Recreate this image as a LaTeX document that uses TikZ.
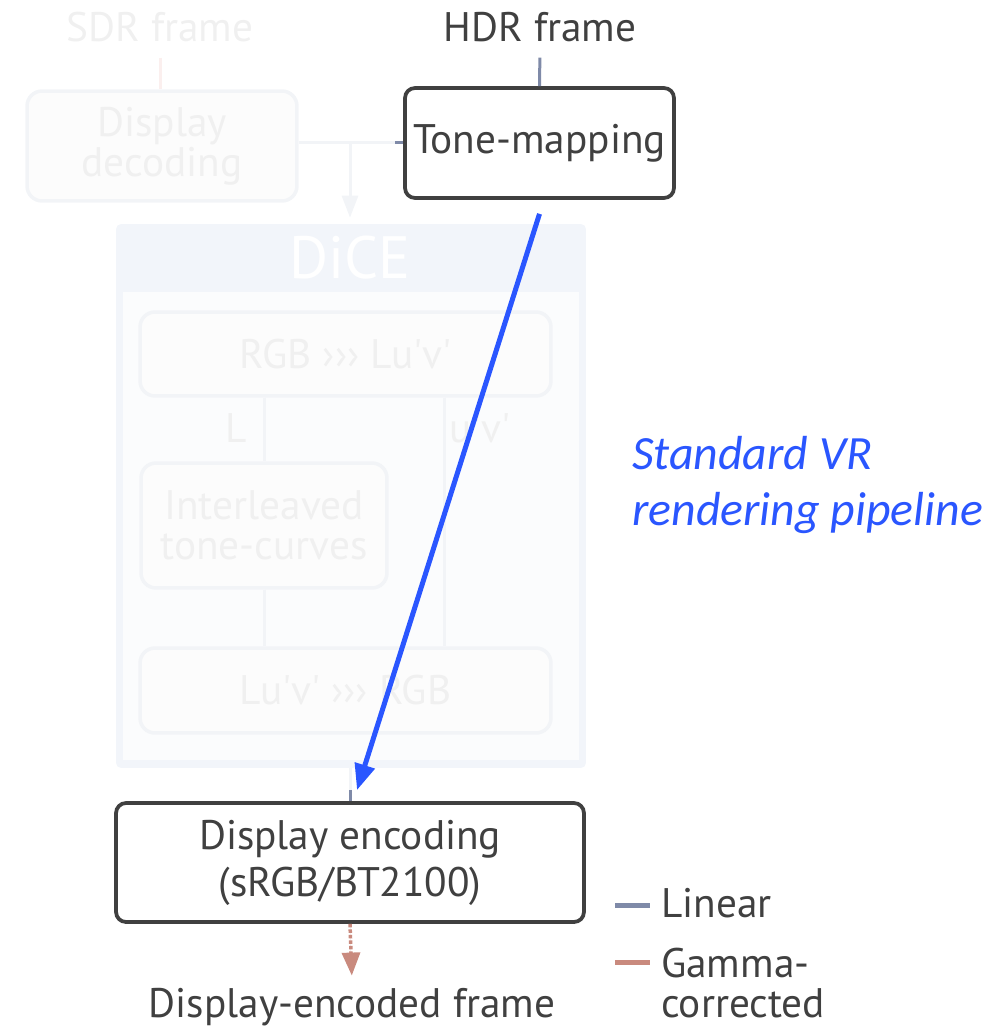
\documentclass[tikz,border=0pt]{standalone}
\usepackage{fontspec}
\setmainfont{PT Sans}
\newfontfamily\notefamily{Carlito}
\usepackage{tikz}
\usetikzlibrary{arrows.meta, positioning, calc}
\definecolor{mytext}{HTML}{404040}
\definecolor{myborder}{HTML}{404040}
\definecolor{mylinear}{HTML}{7F8AA8}
\definecolor{mygamma}{HTML}{C98A7E}
\definecolor{myblue}{HTML}{2A56FF}
\definecolor{myfainttext}{HTML}{F0F0F0}
\definecolor{myfaintline}{HTML}{F2F4F7}
\definecolor{myfaintpink}{HTML}{FBEFEE}
\definecolor{myfaintfill}{HTML}{FCFCFC}
\definecolor{mydicefill}{HTML}{F2F5FA}
\definecolor{mydiceinner}{HTML}{FBFCFD}
\newcommand\boxfont{\fontsize{23.5}{26.7}\selectfont}
\newcommand\smallboxfont{\fontsize{23.5}{22.5}\selectfont}
\newcommand\dicefont{\fontsize{34}{40}\selectfont}
\newcommand\notefont{\notefamily\itshape\fontsize{27.2}{32.4}\selectfont}
\tikzset{
stage/.style={
draw=myborder,
fill=white,
rounded corners=0.2cm,
line width=0.075cm,
text=mytext,
font=\boxfont,
align=center
},
faintstage/.style={
draw=myfaintline,
fill=myfaintfill,
rounded corners=0.3cm,
line width=0.07cm,
text=myfainttext,
font=\boxfont,
align=center
},
label/.style={
text=mytext,
font=\boxfont,
align=center
},
faintlabel/.style={
text=myfainttext,
font=\boxfont
},
linearline/.style={
draw=mylinear,
line width=0.06cm
},
faintline/.style={
draw=myfaintline,
line width=0.06cm
},
gammaarrow/.style={
-{Triangle[length=0.46cm,width=0.36cm]},
draw=mygamma,
fill=mygamma,
line width=0.07cm,
dash pattern=on 0.07cm off 0.04cm
},
faintarrow/.style={
-{Triangle[length=0.44cm,width=0.32cm]},
draw=myfaintline,
fill=myfaintline,
line width=0.06cm
},
pipearrow/.style={
-{Triangle[length=0.52cm,width=0.4cm]},
draw=myblue,
fill=myblue,
line width=0.1cm
}
}

\begin{document}
\begin{tikzpicture}[x=0.02cm,y=-0.02cm]
\useasboundingbox (0,0) rectangle (1007,1027);

% SDR branch (faded)
\node[faintlabel, anchor=base] (sdr) at (160,42) {SDR frame};
\node[faintstage, minimum width=5.4cm, minimum height=2.2cm, font=\smallboxfont] (decode) at (162,146) {Display\\decoding};
\draw[myfaintpink, line width=0.06cm, shorten <=0.18cm] (sdr.south) -- (decode.north -| sdr.south);

% HDR branch
\node[label, anchor=base] (hdr) at (540,42) {HDR frame};
\node[stage, minimum width=5.38cm, minimum height=2.2cm] (tonemap) at (539.5,143) {Tone-mapping};
\draw[linearline, shorten <=0.18cm] (hdr.south) -- (tonemap.north);

% DiCE block (faded)
\node[draw=none, fill=mydicefill, rounded corners=0.1cm, minimum width=9.4cm, minimum height=10.88cm] (dice) at (351,496) {};
\node[fill=mydiceinner, minimum width=9.12cm, minimum height=9.36cm] (diceinner) at (351,526) {};
\node[text=white, font=\dicefont] (dicetitle) at (350,258) {DiCE};
\node[faintstage, minimum width=8.22cm, minimum height=1.68cm] (rgb2luv) at (345.5,354) {RGB ››› Lu\textquotesingle v\textquotesingle};
\node[faintstage, minimum width=4.92cm, minimum height=2.5cm, font=\smallboxfont] (tonecurves) at (264,525.5) {Interleaved\\tone-curves};
\node[faintstage, minimum width=8.22cm, minimum height=1.7cm] (luv2rgb) at (345.5,690.5) {Lu\textquotesingle v\textquotesingle{} ››› RGB};
\node[faintlabel] (lumlabel) at (236,428) {L};
\node[faintlabel] (chromlabel) at (480,428) {u\textquotesingle v\textquotesingle};
\coordinate (chrom) at (444,0);
\draw[faintline] (rgb2luv.south -| tonecurves.north) -- (tonecurves.north);
\draw[faintline] (tonecurves.south) -- (luv2rgb.north -| tonecurves.south);
\draw[faintline] (rgb2luv.south -| chrom) -- (luv2rgb.north -| chrom);

% decoded frame goes to tone-mapping and to DiCE
\coordinate (split) at (350,143);
\draw[faintline] (decode.east |- split) -- (tonemap.west);
\draw[linearline] (tonemap.west) -- ++(-8,0);
\draw[faintarrow, shorten >=0.12cm] (split) -- (dice.north -| split);

% display encoding
\node[stage, minimum width=9.36cm, minimum height=2.38cm] (encode) at (350,862.5) {Display encoding\\(sRGB/BT2100)};
\node[label, anchor=base] (out) at (352,1017) {Display-encoded frame};
\draw[faintline] (dice.south -| encode.north) -- (encode.north);
\draw[linearline] (encode.north) -- ++(0,-11);
\draw[gammaarrow, shorten >=0.12cm] (encode.south) -- (out.north);

% standard pipeline skips DiCE
\draw[pipearrow] ($(tonemap.south)+(0,14)$) -- ($(encode.north)+(7,-11)$);
\node[text=myblue, font=\notefont, align=left, anchor=west] (pipenote) at (626,485) {Standard VR\\rendering pipeline};

% legend
\draw[draw=mylinear, line width=0.1cm] (615,905) -- (650,905);
\node[label, anchor=west] (leglinear) at (655,903) {Linear};
\draw[draw=mygamma, line width=0.1cm] (615,962) -- (650,962);
\node[label, font=\smallboxfont, align=left, anchor=west] (leggamma) at (655,983) {Gamma-\\corrected};

\end{tikzpicture}
\end{document}
